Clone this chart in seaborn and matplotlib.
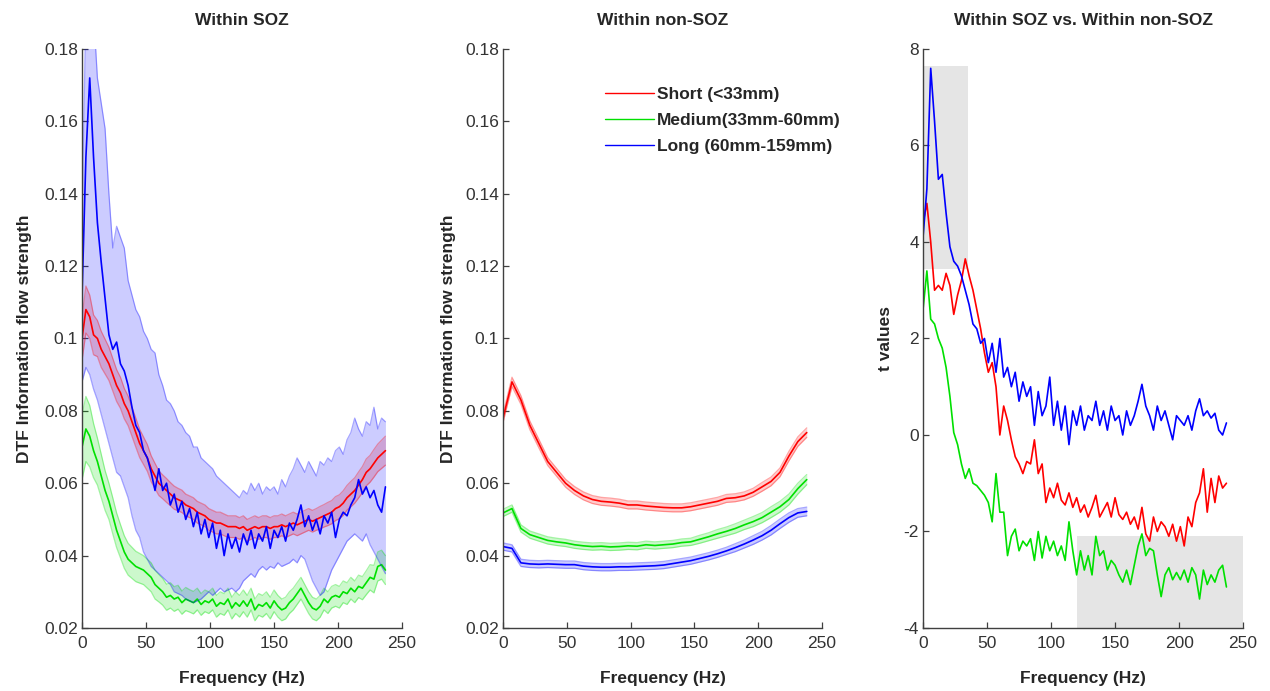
## DTF information flow strength by connection length, SOZ vs non-SOZ.
import numpy as np
import matplotlib.pyplot as plt
import seaborn as sns
from matplotlib.ticker import FormatStrFormatter

# Frequency grids (Hz).
freq = np.arange(0, 240, 3)      # panels 1 and 3
freq2 = np.arange(0, 245, 7)     # panel 2 (smooth curves)

# ---- Panel 1: Within SOZ (mean, sem / band) ----
soz_short = [0.100, 0.108, 0.106, 0.101, 0.100, 0.097, 0.095, 0.093, 0.090, 0.087,
             0.085, 0.082, 0.080, 0.077, 0.074, 0.071, 0.069, 0.067, 0.064, 0.062,
             0.060, 0.059, 0.058, 0.057, 0.056, 0.0555, 0.055, 0.054, 0.0535, 0.053,
             0.052, 0.0515, 0.051, 0.050, 0.0495, 0.049, 0.049, 0.0485, 0.048, 0.048,
             0.048, 0.0475, 0.048, 0.047, 0.0475, 0.048, 0.0475, 0.048, 0.048, 0.0475,
             0.048, 0.048, 0.0485, 0.048, 0.0485, 0.049, 0.0485, 0.049, 0.0495, 0.050,
             0.0495, 0.050, 0.0505, 0.051, 0.0515, 0.052, 0.053, 0.0535, 0.0545, 0.056,
             0.057, 0.058, 0.0595, 0.061, 0.063, 0.064, 0.0655, 0.067, 0.068, 0.069]
soz_short_sem = [0.006, 0.0065, 0.006, 0.0055, 0.005, 0.005, 0.0048, 0.0046, 0.0045, 0.0044,
                 0.0043, 0.0042, 0.0041, 0.004, 0.004, 0.0039, 0.0038, 0.0037, 0.0036, 0.0035,
                 0.0034, 0.0033, 0.0033, 0.0032, 0.0032, 0.0031, 0.0031, 0.003, 0.003, 0.003,
                 0.003, 0.003, 0.003, 0.003, 0.003, 0.003, 0.003, 0.003, 0.003, 0.003,
                 0.003, 0.003, 0.003, 0.003, 0.003, 0.003, 0.003, 0.003, 0.003, 0.003,
                 0.003, 0.003, 0.003, 0.003, 0.003, 0.003, 0.003, 0.003, 0.003, 0.003,
                 0.003, 0.003, 0.0031, 0.0031, 0.0032, 0.0032, 0.0033, 0.0033, 0.0034, 0.0034,
                 0.0035, 0.0035, 0.0036, 0.0036, 0.0037, 0.0037, 0.0038, 0.0038, 0.0039, 0.004]
soz_medium = [0.070, 0.075, 0.073, 0.069, 0.066, 0.062, 0.058, 0.055, 0.051, 0.047,
              0.044, 0.041, 0.039, 0.038, 0.037, 0.0365, 0.036, 0.035, 0.034, 0.032,
              0.031, 0.030, 0.0285, 0.029, 0.028, 0.0285, 0.027, 0.028, 0.0275, 0.027,
              0.028, 0.0265, 0.0275, 0.027, 0.028, 0.026, 0.027, 0.0265, 0.028, 0.0255,
              0.027, 0.026, 0.0275, 0.026, 0.028, 0.025, 0.0265, 0.026, 0.027, 0.0255,
              0.0275, 0.026, 0.025, 0.0255, 0.027, 0.028, 0.0295, 0.031, 0.029, 0.027,
              0.0255, 0.025, 0.026, 0.028, 0.027, 0.0285, 0.029, 0.0285, 0.030, 0.0295,
              0.031, 0.030, 0.0315, 0.031, 0.0325, 0.034, 0.0335, 0.037, 0.0375, 0.036]
soz_medium_sem = [0.009, 0.009, 0.0085, 0.0075, 0.0065, 0.006, 0.0055, 0.005, 0.005, 0.0048,
                  0.0046, 0.0045, 0.0044, 0.0043, 0.0042, 0.0041, 0.004, 0.004, 0.004, 0.004,
                  0.0038, 0.0037, 0.0036, 0.0035, 0.0034, 0.0033, 0.0032, 0.0032, 0.0031, 0.0031,
                  0.003, 0.003, 0.003, 0.003, 0.003, 0.003, 0.003, 0.003, 0.003, 0.003,
                  0.003, 0.003, 0.003, 0.003, 0.003, 0.003, 0.003, 0.003, 0.003, 0.003,
                  0.003, 0.003, 0.003, 0.003, 0.003, 0.003, 0.003, 0.003, 0.003, 0.003,
                  0.003, 0.003, 0.003, 0.003, 0.003, 0.003, 0.003, 0.003, 0.003, 0.003,
                  0.003, 0.003, 0.0031, 0.0032, 0.0033, 0.0035, 0.0038, 0.004, 0.004, 0.004]
soz_long = [0.112, 0.150, 0.172, 0.150, 0.132, 0.121, 0.111, 0.101, 0.097, 0.099,
            0.093, 0.091, 0.087, 0.081, 0.076, 0.074, 0.069, 0.067, 0.063, 0.058,
            0.064, 0.058, 0.060, 0.054, 0.057, 0.052, 0.055, 0.050, 0.053, 0.048,
            0.052, 0.046, 0.050, 0.045, 0.049, 0.042, 0.047, 0.040, 0.046, 0.042,
            0.045, 0.041, 0.046, 0.043, 0.047, 0.042, 0.046, 0.044, 0.048, 0.042,
            0.047, 0.045, 0.048, 0.044, 0.049, 0.047, 0.050, 0.054, 0.048, 0.051,
            0.047, 0.050, 0.046, 0.051, 0.049, 0.052, 0.045, 0.050, 0.052, 0.051,
            0.054, 0.056, 0.061, 0.057, 0.059, 0.056, 0.058, 0.054, 0.052, 0.059]
soz_long_hi = [0.135, 0.190, 0.190, 0.190, 0.172, 0.165, 0.158, 0.140, 0.125, 0.131,
               0.128, 0.125, 0.116, 0.112, 0.108, 0.106, 0.102, 0.100, 0.097, 0.096,
               0.090, 0.087, 0.083, 0.082, 0.080, 0.077, 0.076, 0.074, 0.073, 0.070,
               0.070, 0.067, 0.066, 0.065, 0.064, 0.062, 0.061, 0.060, 0.059, 0.058,
               0.057, 0.056, 0.058, 0.057, 0.060, 0.058, 0.060, 0.057, 0.059, 0.058,
               0.059, 0.057, 0.061, 0.059, 0.062, 0.064, 0.067, 0.065, 0.063, 0.066,
               0.064, 0.062, 0.066, 0.065, 0.067, 0.066, 0.069, 0.070, 0.068, 0.072,
               0.074, 0.078, 0.075, 0.073, 0.077, 0.076, 0.081, 0.075, 0.078, 0.077]
soz_long_lo = [0.088, 0.092, 0.090, 0.086, 0.083, 0.079, 0.075, 0.071, 0.067, 0.063,
               0.062, 0.059, 0.056, 0.051, 0.047, 0.045, 0.041, 0.039, 0.037, 0.036,
               0.035, 0.034, 0.033, 0.032, 0.030, 0.0295, 0.029, 0.028, 0.0275, 0.027,
               0.0275, 0.028, 0.029, 0.030, 0.029, 0.030, 0.031, 0.030, 0.0305, 0.031,
               0.030, 0.031, 0.033, 0.034, 0.035, 0.034, 0.036, 0.037, 0.036, 0.037,
               0.0365, 0.038, 0.037, 0.0375, 0.038, 0.039, 0.038, 0.040, 0.039, 0.036,
               0.033, 0.031, 0.029, 0.030, 0.033, 0.036, 0.038, 0.040, 0.042, 0.044,
               0.045, 0.046, 0.045, 0.044, 0.046, 0.043, 0.041, 0.039, 0.037, 0.035]

# ---- Panel 2: Within non-SOZ ----
non_short = [0.078, 0.088, 0.083, 0.076, 0.071, 0.066, 0.063, 0.060, 0.058, 0.0565,
             0.0555, 0.055, 0.0548, 0.0545, 0.054, 0.054, 0.0537, 0.0535, 0.0533, 0.0532,
             0.0532, 0.0535, 0.054, 0.0545, 0.055, 0.0558, 0.056, 0.0565, 0.0575, 0.059,
             0.0605, 0.063, 0.0675, 0.0715, 0.074]
non_short_sem = [0.0012, 0.0013, 0.0012, 0.0012, 0.0012, 0.0011, 0.0011, 0.0011, 0.0011, 0.0011,
                 0.0011, 0.0011, 0.0011, 0.0011, 0.0011, 0.0011, 0.0011, 0.0011, 0.0011, 0.0011,
                 0.0011, 0.0011, 0.0011, 0.0011, 0.0011, 0.0011, 0.0011, 0.0011, 0.0011, 0.0012,
                 0.0012, 0.0012, 0.0013, 0.0013, 0.0013]
non_medium = [0.0518, 0.0530, 0.0475, 0.0458, 0.0450, 0.0442, 0.0438, 0.0435, 0.0430, 0.0427,
              0.0425, 0.0426, 0.0424, 0.0425, 0.0427, 0.0426, 0.0430, 0.0428, 0.0430, 0.0432,
              0.0436, 0.0438, 0.0445, 0.0452, 0.0460, 0.0467, 0.0475, 0.0485, 0.0494, 0.0505,
              0.0520, 0.0535, 0.0555, 0.0585, 0.0610]
non_medium_sem = [0.001, 0.001, 0.001, 0.001, 0.001, 0.001, 0.001, 0.001, 0.001, 0.001,
                  0.001, 0.001, 0.001, 0.001, 0.001, 0.001, 0.001, 0.001, 0.001, 0.001,
                  0.001, 0.001, 0.0011, 0.0011, 0.0012, 0.0012, 0.0013, 0.0013, 0.0014, 0.0014,
                  0.0015, 0.0015, 0.0015, 0.0015, 0.0014]
non_long = [0.0425, 0.0420, 0.0380, 0.0377, 0.0376, 0.0377, 0.0376, 0.0375, 0.0375, 0.0371,
            0.0369, 0.0368, 0.0368, 0.0369, 0.0369, 0.0370, 0.0371, 0.0372, 0.0374, 0.0378,
            0.0382, 0.0386, 0.0392, 0.0398, 0.0405, 0.0413, 0.0422, 0.0432, 0.0443, 0.0455,
            0.0470, 0.0488, 0.0505, 0.0518, 0.0522]
non_long_sem = [0.001, 0.001, 0.001, 0.001, 0.001, 0.001, 0.001, 0.001, 0.001, 0.001,
                0.001, 0.001, 0.001, 0.001, 0.001, 0.001, 0.001, 0.001, 0.001, 0.001,
                0.001, 0.001, 0.001, 0.001, 0.001, 0.001, 0.0011, 0.0011, 0.0012, 0.0012,
                0.0013, 0.0013, 0.0013, 0.0012, 0.0012]

# ---- Panel 3: t values, within SOZ vs within non-SOZ ----
t_short = [4.4, 4.8, 4.0, 3.0, 3.1, 3.0, 3.35, 3.1, 2.5, 2.9,
           3.2, 3.65, 3.3, 3.0, 2.6, 2.2, 1.7, 1.3, 1.5, 1.0,
           0.0, 0.6, 0.3, -0.1, -0.45, -0.6, -0.8, -0.55, -0.6, -0.1,
           -0.8, -0.6, -1.4, -1.1, -1.3, -1.0, -1.35, -1.45, -1.2, -1.5,
           -1.3, -1.6, -1.45, -1.7, -1.5, -1.25, -1.7, -1.55, -1.4, -1.7,
           -1.3, -1.65, -1.75, -1.6, -1.85, -1.7, -1.95, -1.5, -2.05, -2.2,
           -1.7, -2.0, -1.8, -1.9, -2.1, -1.85, -2.2, -1.9, -2.3, -1.7,
           -1.9, -1.4, -1.2, -0.7, -1.6, -0.9, -1.4, -0.85, -1.1, -1.0]
t_medium = [2.6, 3.4, 2.4, 2.3, 2.0, 1.8, 1.4, 0.8, 0.05, -0.2,
            -0.6, -0.9, -0.7, -1.0, -1.05, -1.15, -1.25, -1.4, -1.8, -0.8,
            -1.6, -1.6, -2.5, -2.1, -1.95, -2.4, -2.2, -2.3, -2.15, -2.6,
            -2.0, -2.55, -2.1, -2.4, -2.2, -2.5, -2.3, -2.6, -1.8, -2.4,
            -2.9, -2.4, -2.8, -2.5, -2.9, -2.1, -2.5, -2.4, -2.8, -2.6,
            -2.7, -2.9, -3.05, -2.8, -3.1, -2.7, -2.3, -2.05, -2.5, -2.35,
            -2.4, -2.9, -3.35, -2.9, -2.75, -3.0, -2.85, -3.0, -2.8, -3.05,
            -2.75, -2.9, -3.4, -2.8, -3.1, -2.9, -3.05, -2.8, -2.7, -3.15]
t_long = [4.1, 5.1, 7.6, 6.5, 5.3, 5.4, 4.6, 3.9, 3.6, 3.5,
          3.3, 3.0, 2.7, 2.3, 2.2, 1.9, 2.0, 1.5, 1.9, 1.3,
          2.0, 1.2, 1.4, 1.0, 1.3, 0.7, 1.1, 0.8, 1.0, 0.2,
          0.9, 0.4, 0.6, 1.2, 0.2, 0.7, 0.1, 0.6, -0.2, 0.5,
          0.2, 0.6, 0.1, 0.4, 0.3, 0.7, 0.2, 0.5, 0.1, 0.6,
          0.3, 0.4, 0.0, 0.5, 0.2, 0.4, 0.7, 1.05, 0.6, 0.4,
          0.1, 0.6, 0.3, 0.5, 0.2, -0.1, 0.4, 0.3, 0.2, 0.4,
          0.1, 0.5, 0.75, 0.4, 0.5, 0.35, 0.45, 0.1, 0.0, 0.25]
# Significant windows (freq start, freq end, t low, t high).
sig_windows = [(0, 35, 3.45, 7.65), (120, 250, -4.0, -2.1)]

labels = ['Short (<33mm)', 'Medium(33mm-60mm)', 'Long (60mm-159mm)']
colors = ['#ff0000', '#00e000', '#0000ff']

sns.set_style('white')
plt.rcParams['font.family'] = ['Liberation Sans', 'DejaVu Sans']
FS = 12.5


def shaded(ax, x, mean, lo, hi, color):
    ax.fill_between(x, lo, hi, color=color, alpha=0.2, lw=0)
    ax.plot(x, lo, color=color, alpha=0.35, lw=0.9)
    ax.plot(x, hi, color=color, alpha=0.35, lw=0.9)
    return sns.lineplot(x=x, y=mean, ax=ax, color=color, lw=1.2)


def style(ax, ylim, yticks, title, ylabel, ylab_x):
    ax.set_xlim(0, 250)
    ax.set_ylim(*ylim)
    ax.set_xticks([0, 50, 100, 150, 200, 250])
    ax.set_yticks(yticks)
    ax.yaxis.set_major_formatter(FormatStrFormatter('%g'))
    for s in ['top', 'right']:
        ax.spines[s].set_visible(False)
    for s in ['left', 'bottom']:
        ax.spines[s].set_color('#404040')
        ax.spines[s].set_linewidth(1.0)
    ax.tick_params(direction='in', length=4, width=0.9, color='#404040',
                   labelsize=FS, labelcolor='#333333', left=True, bottom=True)
    ax.tick_params(axis='x', pad=6)
    ax.tick_params(axis='y', pad=3)
    ax.set_title(title, fontsize=FS, fontweight='bold', color='#262626', pad=17.5)
    ax.set_xlabel('Frequency (Hz)', fontsize=FS, fontweight='bold', color='#262626', labelpad=14)
    ax.set_ylabel(ylabel, fontsize=FS, fontweight='bold', color='#262626')
    ax.yaxis.set_label_coords(ylab_x, 0.5)


fig = plt.figure(figsize=(12.7, 6.91), dpi=100)
ax1 = fig.add_axes([0.0646, 0.0912, 0.2520, 0.8379])
ax2 = fig.add_axes([0.3961, 0.0912, 0.2512, 0.8379])
ax3 = fig.add_axes([0.7268, 0.0912, 0.2520, 0.8379])

# Panel 1.
s = np.array(soz_short_sem)
m = np.array(soz_short)
shaded(ax1, freq, m, m - s, m + s, colors[0])
s = np.array(soz_medium_sem)
m = np.array(soz_medium)
shaded(ax1, freq, m, m - s, m + s, colors[1])
shaded(ax1, freq, soz_long, soz_long_lo, soz_long_hi, colors[2])
style(ax1, (0.02, 0.18), np.arange(0.02, 0.181, 0.02), 'Within SOZ',
      'DTF Information flow strength', -0.156)

# Panel 2.
handles = []
for mean, sem, color in zip([non_short, non_medium, non_long],
                            [non_short_sem, non_medium_sem, non_long_sem], colors):
    m, s = np.array(mean), np.array(sem)
    shaded(ax2, freq2, m, m - s, m + s, color)
    handles.append(plt.Line2D([], [], color=color, lw=1.0))
style(ax2, (0.02, 0.18), np.arange(0.02, 0.181, 0.02), 'Within non-SOZ',
      'DTF Information flow strength', -0.147)
leg = ax2.legend(handles, labels, loc='upper left', bbox_to_anchor=(0.32, 0.935),
                 frameon=False, borderpad=0, borderaxespad=0, handlelength=2.8,
                 handletextpad=0.2, labelspacing=0.62,
                 prop={'size': FS, 'weight': 'bold'})

# Panel 3.
for x0, x1, y0, y1 in sig_windows:
    ax3.fill_between([x0, x1], y0, y1, color='#e5e5e5', lw=0, zorder=0)
for vals, color in zip([t_short, t_medium, t_long], colors):
    sns.lineplot(x=freq, y=vals, ax=ax3, color=color, lw=1.2)
style(ax3, (-4, 8), [-4, -2, 0, 2, 4, 6, 8], 'Within SOZ vs. Within non-SOZ',
      't values', -0.094)

plt.savefig('out.png', dpi=100)
